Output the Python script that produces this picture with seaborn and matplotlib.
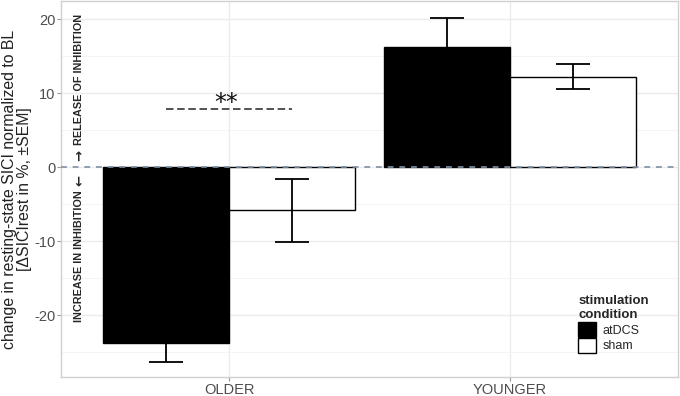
import pandas as pd
import matplotlib.pyplot as plt
import matplotlib.patches as mpatches
from matplotlib.ticker import MultipleLocator
import seaborn as sns

# values
groups = ["OLDER", "OLDER", "YOUNGER", "YOUNGER"]
conditions = ["atDCS", "sham", "atDCS", "sham"]
means = [-23.8, -5.85, 16.3, 12.2]
sems = [2.5, 4.3, 3.9, 1.7]
group_order = ["OLDER", "YOUNGER"]
cond_order = ["atDCS", "sham"]
cond_colors = {"atDCS": "black", "sham": "white"}
sig_y = 7.8
sig_label = "**"

df = pd.DataFrame({"group": groups, "condition": conditions, "mean": means, "sem": sems})

sns.set_style("whitegrid", {"grid.color": "#ebebeb", "axes.edgecolor": "#cfcfcf"})
plt.rcParams['font.family'] = ['Liberation Sans', 'DejaVu Sans']
plt.rcParams['axes.unicode_minus'] = False

fig = plt.figure(figsize=(6.8, 3.96), dpi=100)
ax = fig.add_axes([61 / 680, 1 - 377 / 396, (678 - 61) / 680, 376 / 396])

sns.barplot(data=df, x="group", y="mean", hue="condition", order=group_order,
            hue_order=cond_order, palette=cond_colors, edgecolor="black",
            linewidth=1.0, width=0.9, errorbar=None, legend=False, ax=ax, zorder=2)

# error bars, one per bar, placed at the bar centres seaborn produced
bars = [p for p in ax.patches if p.get_width() > 0]
bars = sorted(bars, key=lambda p: p.get_x())
for p, m, s in zip(bars, df["mean"], df["sem"]):
    cx = p.get_x() + p.get_width() / 2
    ax.errorbar(cx, m, yerr=s, fmt="none", ecolor="black", elinewidth=1.3,
                capsize=12, capthick=1.3, zorder=3)

# zero reference line
ax.axhline(0, color="#7d8fa6", linestyle=(0, (3.5, 3.5)), linewidth=1.2, zorder=4)

# significance marker between OLDER bars
older = bars[:2]
x0 = older[0].get_x() + older[0].get_width() / 2
x1 = older[1].get_x() + older[1].get_width() / 2
ax.plot([x0, x1], [sig_y, sig_y], color="#333333", linestyle=(0, (4.5, 2.2)), linewidth=1.2, zorder=4)
ax.text((x0 + x1) / 2 - 0.01, sig_y - 0.8, sig_label, ha="center", va="bottom", fontsize=17,
        color="#111111", family=["DejaVu Sans"])

# direction annotations (arrow drawn separately so it keeps a readable size)
tx = -0.535
ax.annotate("\u2192", xy=(tx, 0.9), rotation=90, ha="center", va="bottom",
            fontsize=9.5, fontweight="bold", family=["DejaVu Sans"])
ax.annotate("RELEASE OF INHIBITION", xy=(tx, 0.9), xytext=(0, 11), textcoords="offset points",
            rotation=90, ha="center", va="bottom", fontsize=7.8, fontweight="bold")
ax.annotate("\u2190", xy=(tx, -1.1), rotation=90, ha="center", va="top",
            fontsize=9.5, fontweight="bold", family=["DejaVu Sans"])
ax.annotate("INCREASE IN INHIBITION", xy=(tx, -1.1), xytext=(0, -11), textcoords="offset points",
            rotation=90, ha="center", va="top", fontsize=7.8, fontweight="bold")

ax.set_xlim(-0.6, 1.6)
ax.set_ylim(-28.35, 22.45)
ax.yaxis.set_major_locator(MultipleLocator(10))
ax.yaxis.set_minor_locator(MultipleLocator(5))
ax.grid(which="major", color="#ebebeb", linewidth=1.0, zorder=0)
ax.grid(which="minor", axis="y", color="#f3f3f3", linewidth=0.6, zorder=0)
ax.set_axisbelow(True)
ax.tick_params(axis="both", which="major", length=3, color="#999999", labelsize=10.5,
               labelcolor="#4d4d4d", pad=1.2, left=True, bottom=True)
ax.tick_params(axis="both", which="minor", length=0)
for sp in ax.spines.values():
    sp.set_color("#d0d0d0")
    sp.set_linewidth(1.0)

ax.set_xlabel("")
ax.set_ylabel("change in resting-state SICI normalized to BL\n[\u0394SICIrest in %, \u00b1SEM]",
              fontsize=11.4, color="#222222", linespacing=1.0)
ax.yaxis.set_label_coords(-0.047, 0.5)

handles = [mpatches.Patch(facecolor=cond_colors[c], edgecolor="black", linewidth=1.0, label=c)
           for c in cond_order]
leg = ax.legend(handles=handles, title="stimulation\ncondition", loc="lower left",
                bbox_to_anchor=(0.838, 0.064), frameon=False, fontsize=9,
                title_fontproperties={"weight": "bold", "size": 9.5}, alignment="left",
                handlelength=1.4, handleheight=1.5, handletextpad=0.55, labelspacing=0.05,
                borderaxespad=0, borderpad=0)

plt.savefig("out.png", dpi=100)
plt.close()
